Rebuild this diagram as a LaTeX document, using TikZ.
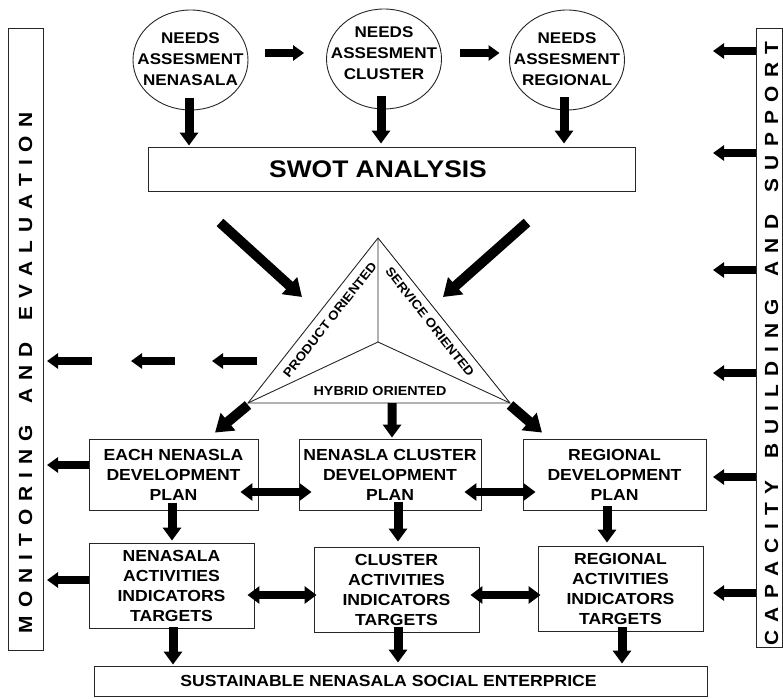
\documentclass[tikz,border=0pt]{standalone}
\usepackage{fontspec}
\setmainfont{Liberation Sans}[FakeStretch=1.1]
\usetikzlibrary{arrows.meta,shapes.geometric,calc}
\newlength\lskip
\def\lsp#1{\ifx#1\relax\else#1\kern\lskip\expandafter\lsp\fi}
\begin{document}
\begin{tikzpicture}[x=1pt,y=-1pt,
  outl/.style={draw=black!85,line width=0.9pt},
  box/.style={outl,inner sep=0pt,align=center,font=\bfseries\fontsize{16}{20}\selectfont},
  circ/.style={outl,ellipse,inner sep=0pt,minimum width=115pt,minimum height=100pt},
  ctxt/.style={inner sep=0pt,align=center,font=\bfseries\fontsize{15.5}{21}\selectfont},
  tri/.style={inner sep=0pt,font=\bfseries\fontsize{12.5}{14}\selectfont},
  bartxt/.style={inner sep=0pt,rotate=90,font=\bfseries\fontsize{19}{19}\selectfont},
  fatv/.style={line width=9pt,-{Triangle[width=18pt,length=13pt]}},
  fath/.style={line width=7.5pt,-{Triangle[width=15pt,length=11pt]}},
  diag/.style={line width=10pt,-{Triangle[width=22pt,length=17pt]}},
  dbl/.style={line width=8pt,{Triangle[width=17pt,length=12pt]}-{Triangle[width=17pt,length=12pt]}}
]
\useasboundingbox (0,0) rectangle (783,698);

% side bars
\node[outl,minimum width=35pt,minimum height=622pt,inner sep=0pt] (mon) at (25.5,339) {};
\node[bartxt] (montxt) at (25.5,373) {\setlength\lskip{8.0pt}\lsp MONITORING~AND~EVALUATION\relax\kern-\lskip};
\node[outl,minimum width=26pt,minimum height=619pt,inner sep=0pt] (cap) at (769,337.5) {};
\node[bartxt] (captxt) at (771.5,343.5) {\setlength\lskip{8.3pt}\lsp CAPACITY~BUILDING~AND~SUPPORT\relax\kern-\lskip};

% needs assessment circles
\node[circ] (c1) at (190.5,60) {};
\node[ctxt] (c1t) at (190.5,59) {NEEDS\\ASSESMENT\\NENASALA};
\node[circ] (c2) at (384,59) {};
\node[ctxt] (c2t) at (384,53) {NEEDS\\ASSESMENT\\CLUSTER};
\node[circ] (c3) at (567,60) {};
\node[ctxt] (c3t) at (567,59) {NEEDS\\ASSESMENT\\REGIONAL};

% SWOT
\node[box,minimum width=487pt,minimum height=44pt] (swot) at (391.5,169) {};
\node[inner sep=0pt,font=\bfseries\fontsize{24}{24}\selectfont] (swottxt) at (378,169) {SWOT ANALYSIS};

% triangle
\coordinate (ta) at (378,238);
\coordinate (tl) at (248,403);
\coordinate (tr) at (510,403);
\coordinate (tc) at (378,342);
\draw[outl] (ta) -- (tl) -- (tr) -- cycle;
\draw[outl] (ta) -- (tc) (tl) -- (tc) (tr) -- (tc);
\node[tri,rotate=51.8] (tprod) at (330,320) {PRODUCT ORIENTED};
\node[tri,rotate=-51.8] (tserv) at (430,322) {SERVICE ORIENTED};
\node[tri,font=\bfseries\fontsize{13}{14}\selectfont] (thyb) at (380,391) {HYBRID ORIENTED};

% development plans
\node[box,minimum width=169pt,minimum height=71pt] (A) at (173.5,474.5) {EACH NENASLA\\DEVELOPMENT\\PLAN};
\node[box,minimum width=182pt,minimum height=71pt] (B) at (390,474.5) {NENASLA CLUSTER\\DEVELOPMENT\\PLAN};
\node[box,minimum width=183pt,minimum height=71pt] (C) at (614.5,474.5) {REGIONAL\\DEVELOPMENT\\PLAN};

% activities
\node[box,minimum width=165pt,minimum height=85pt] (D) at (171.5,585.5) {NENASALA\\ACTIVITIES\\INDICATORS\\TARGETS};
\node[box,minimum width=165pt,minimum height=85pt] (E) at (396.5,589.5) {CLUSTER\\ACTIVITIES\\INDICATORS\\TARGETS};
\node[box,minimum width=165pt,minimum height=85pt] (F) at (620.5,588.5) {REGIONAL\\ACTIVITIES\\INDICATORS\\TARGETS};

% bottom
\node[box,minimum width=613pt,minimum height=30pt] (S) at (400.5,681) {};
\node[inner sep=0pt,font=\bfseries\fontsize{16}{16}\selectfont] (Stxt) at (388.5,681) {SUSTAINABLE NENASALA SOCIAL ENTERPRICE};

% circle to circle
\draw[fath] ($(c1.east)+(17,-7)$) -- ($(c2.west)+(-22,-6)$);
\draw[fath] ($(c2.east)+(18.5,-6)$) -- ($(c3.west)+(-9.5,-7)$);

% circles to SWOT
\draw[fatv] ($(c1.south)+(-1.5,-12)$) -- ($(c1.south |- swot.north)+(-1.5,-1)$);
\draw[fatv] ($(c2.south)+(-3,-13)$) -- ($(c2.south |- swot.north)+(-3,-3)$);
\draw[fatv] ($(c3.south)+(-3,-13)$) -- ($(c3.south |- swot.north)+(-3,-3)$);

% SWOT to triangle
\draw[diag] ($(swot.south)+(-171.5,31)$) -- ($(ta)+(-76,59)$);
\draw[diag] ($(swot.south)+(135.5,31)$) -- ($(ta)+(65,59)$);

% triangle to plans
\draw[diag] ($(tl)+(0,2)$) -- ($(A.north)+(41.5,-6)$);
\draw[fatv] ($(tl)!0.55!(tr)$) -- ($(B.north)+(2,-1)$);
\draw[diag] ($(tr)+(0,2)$) -- ($(C.north)+(-72.5,-6)$);

% double arrows
\draw[dbl] ($(A.east)+(-18,17.5)$) -- ($(B.west)+(13,17.5)$);
\draw[dbl] ($(B.east)+(-17,17.5)$) -- ($(C.west)+(13,17.5)$);
\draw[dbl] ($(D.east)+(-7,9.5)$) -- ($(E.west)+(3,5.5)$);
\draw[dbl] ($(E.east)+(-9,5.5)$) -- ($(F.west)+(3,6.5)$);

% plans to activities
\draw[fatv] ($(A.south)+(-1.5,-7)$) -- ($(A.south |- D.north)+(-1.5,-2)$);
\draw[fatv] ($(B.south)+(8,-8)$) -- ($(B.south |- E.north)+(8,-5)$);
\draw[fatv] ($(C.south)+(-7.5,-4)$) -- ($(C.south |- F.north)+(-7.5,-3)$);

% activities to bottom
\draw[fatv] ($(D.south)+(1.5,-1)$) -- ($(D.south |- S.north)+(1.5,-1)$);
\draw[fatv] ($(E.south)+(1.5,-5)$) -- ($(E.south |- S.north)+(1.5,-3)$);
\draw[fatv] ($(F.south)+(1.5,-4)$) -- ($(F.south |- S.north)+(1.5,-2)$);

% monitoring arrows (left)
\coordinate (m1a) at (257,361); \coordinate (m1b) at (212,361);
\coordinate (m2a) at (175,361); \coordinate (m2b) at (131,361);
\coordinate (m3a) at (92,361);  \coordinate (m3b) at (47,361);
\draw[fath] (m1a) -- (m1b);
\draw[fath] (m2a) -- (m2b);
\draw[fath] (m3a) -- (m3b);
\coordinate (la) at (47,465);
\coordinate (ld) at (47,580);
\draw[fath] (la -| A.west) -- (la);
\draw[fath] (ld -| D.west) -- (ld);

% capacity arrows (right)
\foreach \n/\yy in {1/51,2/153,3/270,4/373,5/477,6/593}{
  \coordinate (r\n) at (713,\yy);
  \draw[fath] (r\n -| cap.west) -- (r\n);
}
\end{tikzpicture}
\end{document}
